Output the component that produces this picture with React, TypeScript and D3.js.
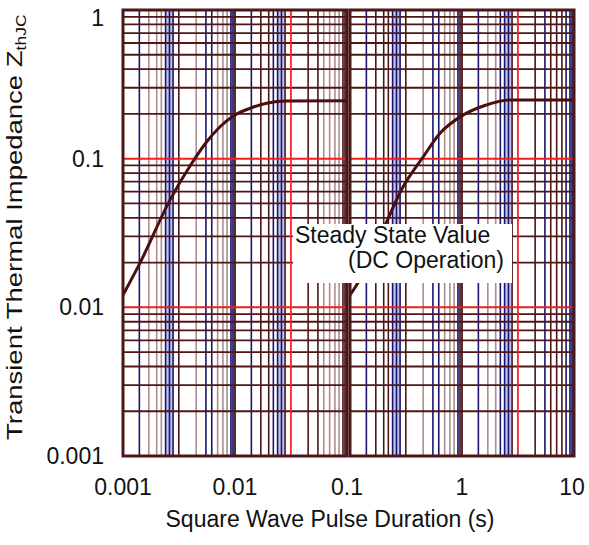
import * as d3 from 'd3'

// axis ticks
const xTicks = [0.001, 0.01, 0.1, 1, 10]
const xTickLabels = ['0.001', '0.01', '0.1', '1', '10']
const yTicks = [1, 0.1, 0.01, 0.001]
const yTickLabels = ['1', '0.1', '0.01', '0.001']

// grid lines inside each decade (the scanned grid is denser than 2..9)
const xGridMultipliers = [1.4, 1.7, 2, 2.2, 2.4, 2.6, 2.8, 3.15, 4.5, 5.5, 6.2, 7, 7.8, 8.5, 9.2, 9.6]
const yGridMultipliers = [2, 3, 4, 5, 6, 7, 8, 9]
const xDecades = [0.001, 0.01, 0.1, 1]
const yDecades = [0.001, 0.01, 0.1]

// Zth curve, left panel (0.001 .. 0.1 s)
const leftT = [0.001, 0.00142, 0.00263, 0.00411, 0.00559, 0.00735, 0.00966, 0.0136, 0.0192, 0.029, 0.1]
const leftZ = [0.0121, 0.0199, 0.0528, 0.0931, 0.13, 0.164, 0.194, 0.218, 0.236, 0.244, 0.245]

// Zth curve, right panel (0.1 .. 10 s)
const rightT = [0.1, 0.115, 0.2, 0.289, 0.451, 0.636, 1.03, 1.55, 2.68, 10]
const rightZ = [0.0121, 0.0142, 0.034, 0.062, 0.103, 0.148, 0.197, 0.226, 0.248, 0.248]

const W = 589
const H = 545
const top = 10
const bottom = 456
const font = '"Liberation Sans", Arial, Helvetica, sans-serif'

const N = '#16166e'
const D = '#4e1616'
const M = '#ad8c8c'
const R = '#ff2a2a'
const decadeColors = [
  [N, M, M, M, N, N, N, D, M, N, N, M, M, M, N, N],
  [N, D, D, N, N, N, D, R, D, D, M, M, M, M, D, D],
  [N, D, D, D, N, N, N, D, M, N, N, M, M, M, N, D],
  [N, M, M, N, N, N, D, R, D, N, D, D, D, N, N, N],
]

const panels = [
  { domain: [0.001, 0.1], range: [123, 347], t: leftT, z: leftZ, decades: [0, 1] },
  { domain: [0.1, 10], range: [350, 574], t: rightT, z: rightZ, decades: [2, 3] },
]

const y = d3.scaleLog().domain([0.001, 1]).range([bottom, top])

function Panel({ p }: { p: (typeof panels)[number] }) {
  const x = d3.scaleLog().domain(p.domain).range(p.range)
  const [x0, x1] = p.range
  const line = d3
    .line<number>()
    .x((_, i) => x(p.t[i]))
    .y((_, i) => y(p.z[i]))
    .curve(d3.curveMonotoneX)
  return (
    <g>
      {p.decades.map(di => {
        const dec = xDecades[di]
        return (
          <g key={'d' + di}>
            <rect x={x(dec * 2.4)} width={x(dec * 2.8) - x(dec * 2.4)} y={top} height={bottom - top} fill="#c3c3ee" />
            <rect x={x(dec * 9.2)} width={x(dec * 10) - x(dec * 9.2)} y={top} height={bottom - top} fill="#c3c3ee" />
            {xGridMultipliers.map((m, i) => (
              <line key={i} x1={x(dec * m)} x2={x(dec * m)} y1={top} y2={bottom}
                stroke={decadeColors[di][i]} strokeWidth={1.6} />
            ))}
            <line x1={x(dec)} x2={x(dec)} y1={top} y2={bottom} stroke={D} strokeWidth={1.8} />
          </g>
        )
      })}
      {yDecades.map(dec =>
        yGridMultipliers.map(m => (
          <line key={dec + '-' + m} x1={x0} x2={x1} y1={y(dec * m)} y2={y(dec * m)} stroke={D} strokeWidth={1.8} />
        ))
      )}
      {[0.1, 0.01].map(v => (
        <line key={v} x1={x0} x2={x1} y1={y(v)} y2={y(v)} stroke="#f01e1e" strokeWidth={2} />
      ))}
      {p.decades.map(di => (
        <line key={'r' + di} x1={x(xDecades[di] * 3.15)} x2={x(xDecades[di] * 3.15)} y1={top} y2={bottom}
          stroke={decadeColors[di][7]} strokeWidth={1.6} opacity={decadeColors[di][7] === R ? 1 : 0} />
      ))}
      <path d={line(p.t) || ''} fill="none" stroke="#4a0e0e" strokeWidth={3} />
      <rect x={x0} y={top} width={x1 - x0} height={bottom - top} fill="none" stroke="#4a1818" strokeWidth={3} />
    </g>
  )
}

export default function App() {
  const xl = d3.scaleLog().domain([0.001, 0.1]).range([123, 347])
  const xr = d3.scaleLog().domain([0.1, 10]).range([350, 574])
  const xPos = (v: number) => (v <= 0.1 ? xl(v) : xr(v))
  return (
    <svg width={W} height={H} style={{ position: 'absolute', left: 0, top: 0, background: '#fff' }}
      fontFamily={font}>
      {panels.map((p, i) => <Panel key={i} p={p} />)}

      <rect x={293} y={224} width={219} height={59} fill="#fff" />
      <text x={295} y={243} fontSize={23} fill="#111">Steady State Value</text>
      <text x={504} y={268} fontSize={23} fill="#111" textAnchor="end">(DC Operation)</text>

      {yTicks.map((v, i) => (
        <text key={v} x={104} y={Math.max(y(v), 18)} dy="0.35em" textAnchor="end" fontSize={23} fill="#111">
          {yTickLabels[i]}
        </text>
      ))}
      {xTicks.map((v, i) => (
        <text key={v} x={Math.min(xPos(v), 572)} y={495} textAnchor="middle" fontSize={23} fill="#111">
          {xTickLabels[i]}
        </text>
      ))}

      <text x={330} y={527} textAnchor="middle" fontSize={23} fill="#111">Square Wave Pulse Duration (s)</text>
      <text transform="translate(22,440) rotate(-90) scale(1.25,1)" fontSize={22} fill="#111">
        Transient Thermal Impedance Z
        <tspan fontSize={14} dy={4}>thJC</tspan>
      </text>
    </svg>
  )
}
